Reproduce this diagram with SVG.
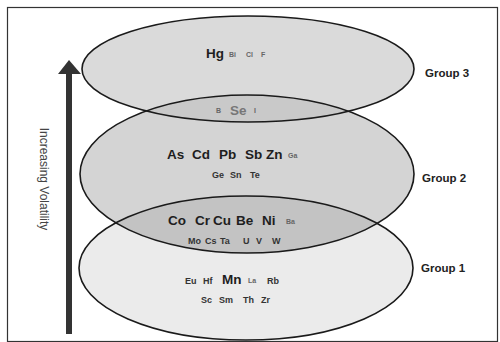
<svg xmlns="http://www.w3.org/2000/svg" width="500" height="342" viewBox="0 0 500 342">
<defs>
<clipPath id="c2"><ellipse cx="247" cy="174" rx="167" ry="79"/></clipPath>
</defs>
<style>
text{font-family:"Liberation Sans",Arial,sans-serif}
.ell{stroke:#1a1a1a;stroke-width:1.6;fill:none}
.big{font-weight:bold;font-size:13.5px;fill:#1e1e1e}
.mid{font-size:9px;fill:#333;font-weight:bold}
.sm{font-size:7px;fill:#666;font-weight:bold}
.grp{font-weight:bold;font-size:11.5px;fill:#222}
</style>
<rect x="0" y="0" width="500" height="342" fill="#fff"/>
<rect x="7.5" y="7.5" width="490" height="334" fill="#fff" stroke="#333" stroke-width="1.2"/>
<g id="group1">
<ellipse cx="246" cy="268" rx="167" ry="72" fill="#ebebeb"/>
</g>
<g id="group2">
<ellipse cx="247" cy="174" rx="167" ry="79" fill="#d4d4d4"/>
</g>
<g id="group3">
<ellipse cx="248" cy="69" rx="166" ry="53" fill="#dadada"/>
</g>
<g id="overlaps" clip-path="url(#c2)">
<ellipse cx="248" cy="69" rx="166" ry="53" fill="#c9c9c9"/>
<ellipse cx="246" cy="268" rx="167" ry="72" fill="#c3c3c3"/>
</g>
<g id="outlines">
<ellipse class="ell" cx="246" cy="268" rx="167" ry="72"/>
<ellipse class="ell" cx="247" cy="174" rx="167" ry="79"/>
<ellipse class="ell" cx="248" cy="69" rx="166" ry="53"/>
</g>
<g id="connectors">
<line x1="69" y1="334" x2="69" y2="72" stroke="#333" stroke-width="6"/>
<polygon points="58,74 69,60 81,74" fill="#333"/>
</g>
<g id="axis-label">
<text transform="translate(40,179) rotate(90)" text-anchor="middle" font-size="12" fill="#444">Increasing Volatility</text>
</g>
<g id="labels">
<text class="grp" x="425" y="77">Group 3</text>
<text class="grp" x="422" y="182">Group 2</text>
<text class="grp" x="421" y="272">Group 1</text>
</g>
<g id="elements3">
<text class="big" x="206" y="58">Hg</text>
<text class="sm" x="229" y="57">Bi</text>
<text class="sm" x="246" y="57">Cl</text>
<text class="sm" x="261" y="57">F</text>
</g>
<g id="elements23">
<text class="sm" x="216" y="113">B</text>
<text class="big" x="230" y="115" style="fill:#777">Se</text>
<text class="sm" x="254" y="113">I</text>
</g>
<g id="elements2">
<text class="big" x="167" y="159">As</text>
<text class="big" x="192" y="159">Cd</text>
<text class="big" x="219" y="159">Pb</text>
<text class="big" x="245" y="159">Sb</text>
<text class="big" x="266" y="159">Zn</text>
<text class="sm" x="288" y="158">Ga</text>
<text class="mid" x="212" y="178">Ge</text>
<text class="mid" x="230" y="178">Sn</text>
<text class="mid" x="250" y="178">Te</text>
</g>
<g id="elements12">
<text class="big" x="168" y="225">Co</text>
<text class="big" x="195" y="225">Cr</text>
<text class="big" x="213" y="225">Cu</text>
<text class="big" x="236" y="225">Be</text>
<text class="big" x="262" y="225">Ni</text>
<text class="sm" x="286" y="224">Ba</text>
<text class="mid" x="188" y="244">Mo</text>
<text class="mid" x="205" y="244">Cs</text>
<text class="mid" x="220" y="244">Ta</text>
<text class="mid" x="243" y="244">U</text>
<text class="mid" x="256" y="244">V</text>
<text class="mid" x="272" y="244">W</text>
</g>
<g id="elements1">
<text class="mid" x="185" y="284">Eu</text>
<text class="mid" x="203" y="284">Hf</text>
<text class="big" x="222" y="284">Mn</text>
<text class="sm" x="248" y="283">La</text>
<text class="mid" x="267" y="284">Rb</text>
<text class="mid" x="201" y="303">Sc</text>
<text class="mid" x="219" y="303">Sm</text>
<text class="mid" x="243" y="303">Th</text>
<text class="mid" x="261" y="303">Zr</text>
</g>
</svg>
